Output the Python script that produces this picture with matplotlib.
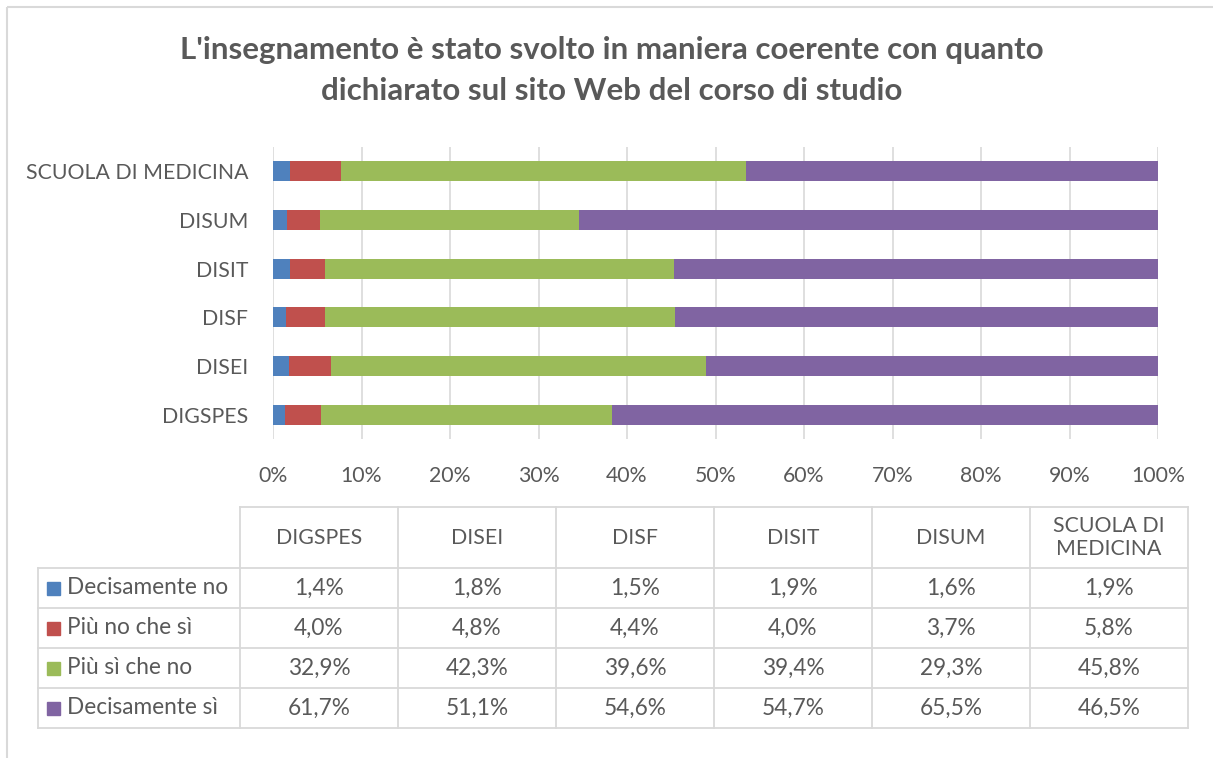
import matplotlib.pyplot as plt
from matplotlib.ticker import PercentFormatter
from matplotlib.patches import Rectangle
import numpy as np

# dati
categorie = ["DIGSPES", "DISEI", "DISF", "DISIT", "DISUM", "SCUOLA DI MEDICINA"]
intestazioni = ["DIGSPES", "DISEI", "DISF", "DISIT", "DISUM", "SCUOLA DI\nMEDICINA"]
serie = ["Decisamente no", "Più no che sì", "Più sì che no", "Decisamente sì"]
dec_no = [1.4, 1.8, 1.5, 1.9, 1.6, 1.9]
piu_no = [4.0, 4.8, 4.4, 4.0, 3.7, 5.8]
piu_si = [32.9, 42.3, 39.6, 39.4, 29.3, 45.8]
dec_si = [61.7, 51.1, 54.6, 54.7, 65.5, 46.5]
colori = ["#4F81BD", "#C0504D", "#9BBB59", "#8064A2"]

plt.rcParams['font.family'] = ['Lato', 'DejaVu Sans']
grigio = "#595959"
linee = "#D9D9D9"

W, H = 1213, 758
fig = plt.figure(figsize=(W / 100, H / 100), dpi=100)

# asse principale (barre 100% in pila)
ax = fig.add_axes([273 / W, 1 - 439.4 / H, (1158 - 273) / W, (439.4 - 146.6) / H])
valori = np.array([dec_no, piu_no, piu_si, dec_si])
totali = valori.sum(axis=0)
perc = valori / totali * 100
y = np.arange(len(categorie))
sinistra = np.zeros(len(categorie))
for i in range(len(serie)):
    ax.barh(y, perc[i], left=sinistra, height=0.41, color=colori[i], zorder=3)
    sinistra += perc[i]

ax.set_xlim(0, 100)
ax.set_ylim(-0.5, len(categorie) - 0.5)
ax.set_xticks(np.arange(0, 101, 10))
ax.xaxis.set_major_formatter(PercentFormatter(xmax=100, decimals=0))
ax.set_yticks(y)
ax.set_yticklabels(categorie)
ax.tick_params(axis='both', length=0, labelsize=15.3, colors=grigio)
ax.tick_params(axis='x', pad=19)
ax.tick_params(axis='y', pad=18)
ax.grid(axis='x', color=linee, linewidth=1.2, zorder=0)
for s in ax.spines.values():
    s.set_visible(False)

# livello in coordinate pixel per titolo, tabella e cornice
ov = fig.add_axes([0, 0, 1, 1], zorder=-1)
ov.set_xlim(0, W)
ov.set_ylim(H, 0)
ov.axis('off')
ov.add_patch(Rectangle((7, 7), W + 20, H + 20, fill=False, edgecolor=linee, linewidth=1.5))

ov.text(612, 50, "L'insegnamento è stato svolto in maniera coerente con quanto",
        ha='center', va='center', fontsize=22.5, fontweight='bold', color=grigio)
ov.text(612, 91, "dichiarato sul sito Web del corso di studio",
        ha='center', va='center', fontsize=22.5, fontweight='bold', color=grigio)

# tabella dati
col_x = [38, 240, 398, 556, 714, 872, 1030, 1188]
riga_y = [507, 568, 608, 648, 688, 728]
kw = dict(color=linee, linewidth=1.3)
ov.plot([col_x[1], col_x[-1]], [riga_y[0], riga_y[0]], **kw)
for ry in riga_y[1:]:
    ov.plot([col_x[0], col_x[-1]], [ry, ry], **kw)
ov.plot([col_x[0], col_x[0]], [riga_y[1], riga_y[-1]], **kw)
for cx in col_x[1:]:
    ov.plot([cx, cx], [riga_y[0], riga_y[-1]], **kw)

for j, testo in enumerate(intestazioni):
    xc = (col_x[j + 1] + col_x[j + 2]) / 2
    ov.text(xc, (riga_y[0] + riga_y[1]) / 2, testo, ha='center', va='center',
            fontsize=15.3, color=grigio, linespacing=1.2)

for i, nome in enumerate(serie):
    yc = (riga_y[i + 1] + riga_y[i + 2]) / 2
    ov.add_patch(Rectangle((47, yc - 6.5), 13, 13, color=colori[i]))
    ov.text(67, yc, nome, ha='left', va='center', fontsize=16.3, color=grigio)
    for j in range(len(categorie)):
        xc = (col_x[j + 1] + col_x[j + 2]) / 2
        ov.text(xc, yc, f"{valori[i][j]:.1f}%".replace(".", ","), ha='center',
                va='center', fontsize=16.3, color=grigio)

fig.savefig("out.png", dpi=100)
